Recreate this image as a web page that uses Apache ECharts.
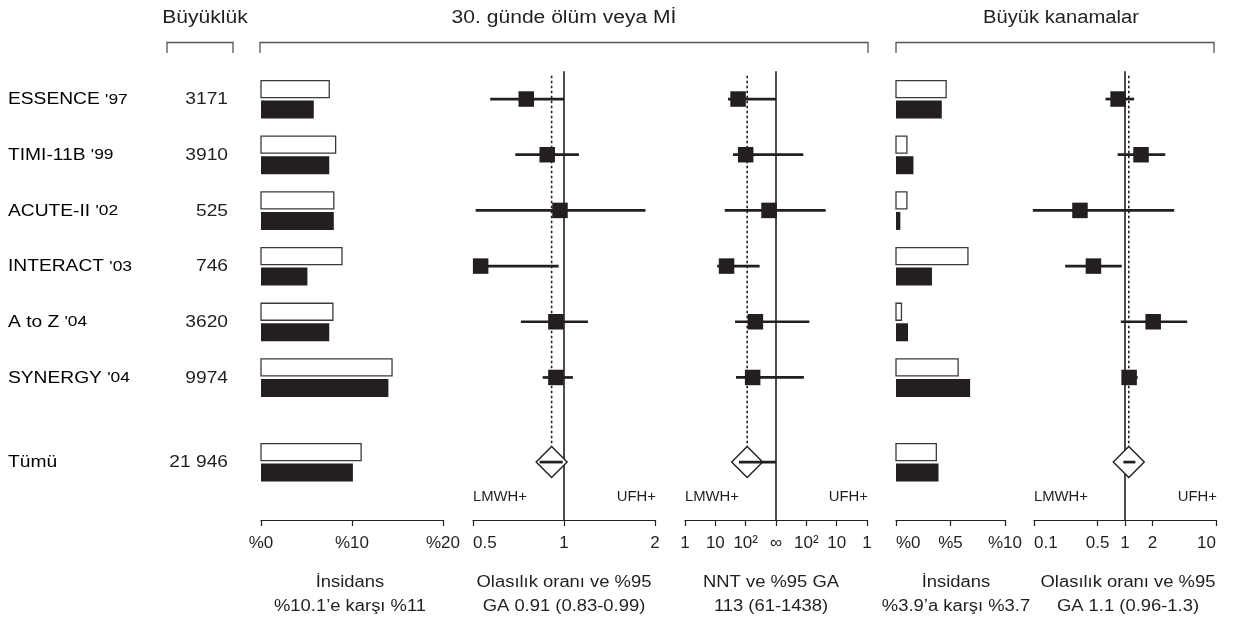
<!DOCTYPE html>
<html>
<head>
<meta charset="utf-8">
<script src="https://cdn.jsdelivr.net/npm/echarts@6/dist/echarts.min.js"></script>
<style>
html, body { margin: 0; padding: 0; background: #fff; }
#main { width: 1233px; height: 625px; }
</style>
</head>
<body>
<div id="main"></div>
<script>
// çalışmalar
var studies = ['ESSENCE', 'TIMI-11B', 'ACUTE-II', 'INTERACT', 'A to Z', 'SYNERGY', 'Tümü'];
var years = ["'97", "'99", "'02", "'03", "'04", "'04", ''];
var sizes = ['3171', '3910', '525', '746', '3620', '9974', '21 946'];
var rowPos = [0, 1, 2, 3, 4, 5, 6.52];

// 30. günde ölüm veya MI insidansı (%) - beyaz: UFH, siyah: LMWH
var miUfh = [7.5, 8.2, 8.0, 8.9, 7.9, 14.4, 11.0];
var miLmwh = [5.8, 7.5, 8.0, 5.1, 7.5, 14.0, 10.1];
// olasılık oranı ve %95 GA
var miOr = [0.75, 0.88, 0.97, 0.53, 0.94, 0.94, 0.91];
var miLo = [0.57, 0.69, 0.51, 0.50, 0.72, 0.85, 0.83];
var miHi = [1.00, 1.12, 1.86, 0.96, 1.20, 1.07, 0.99];
var miOrTicks = [0.5, 1, 2];
// NNT ölçeği (-3..3: LMWH+ 1,10,10²,∞,10²,10,1 UFH+)
var nntPt = [-1.25, -1.0, -0.23, -1.63, -0.68, -0.77, -0.95];
var nntLo = [-1.58, -1.42, -1.69, -1.94, -1.35, -1.32, -1.22];
var nntHi = [0, 0.90, 1.64, -0.54, 1.10, 0.92, 0];
var nntTicks = ['1', '10', '10²', '∞', '10²', '10', '1'];

// büyük kanamalar insidansı (%)
var blUfh = [4.6, 1.0, 1.0, 6.6, 0.5, 5.7, 3.7];
var blLmwh = [4.2, 1.6, 0.4, 3.3, 1.1, 6.8, 3.9];
var blOr = [0.84, 1.50, 0.32, 0.45, 2.04, 1.11, 1.1];
var blLo = [0.61, 0.83, 0.097, 0.22, 0.90, 0.95, 0.96];
var blHi = [1.26, 2.77, 3.47, 0.92, 4.82, 1.38, 1.3];
var blOrTicks = [0.1, 0.5, 1, 2, 10];

var headers = ['Büyüklük', '30. günde ölüm veya Mİ', 'Büyük kanamalar'];
var captions = [
    ['İnsidans', '%10.1’e karşı %11'],
    ['Olasılık oranı ve %95', 'GA 0.91 (0.83-0.99)'],
    ['NNT ve %95 GA', '113 (61-1438)'],
    ['İnsidans', '%3.9’a karşı %3.7'],
    ['Olasılık oranı ve %95', 'GA 1.1 (0.96-1.3)']
];

var INK = '#231f20';
var FONT = '"Liberation Sans", Arial, Helvetica, sans-serif';
var chart = echarts.init(document.getElementById('main'));

var panels = [
    { left: 261, width: 182, cx: 350 },
    { left: 473, width: 182, cx: 564 },
    { left: 685, width: 182, cx: 771 },
    { left: 896, width: 109, cx: 956 },
    { left: 1034, width: 182, cx: 1128 }
];
var TOP = 71.2, BOTTOM_Y = 520;

function axisLabel(extra) {
    var o = { color: INK, fontSize: 17, fontFamily: FONT, margin: 15 };
    for (var k in extra) o[k] = extra[k];
    return o;
}
function xAxisFn(i, extra) {
    var o = {
        gridIndex: i,
        position: 'bottom',
        axisLine: { show: true, onZero: false, lineStyle: { color: INK, width: 1.2 } },
        axisTick: { show: true, inside: false, length: 6, lineStyle: { color: INK, width: 1.2 } },
        splitLine: { show: false }
    };
    for (var k in extra) o[k] = extra[k];
    return o;
}

// beyaz/siyah çubuklar
function barSeries(idx, white, black) {
    return {
        type: 'custom', xAxisIndex: idx, yAxisIndex: idx, silent: true, z: 3,
        encode: { x: [0, 1], y: 2 },
        data: rowPos.map(function (y, i) { return [white[i], black[i], y]; }),
        renderItem: function (params, api) {
            var y = api.value(2);
            var c0 = api.coord([0, y]);
            var w = api.coord([api.value(0), y]);
            var b = api.coord([api.value(1), y]);
            return {
                type: 'group', children: [
                    { type: 'rect', shape: { x: c0[0], y: c0[1] - 18.5, width: w[0] - c0[0], height: 17 },
                      style: { fill: '#fff', stroke: '#3a3a3a', lineWidth: 1.3 } },
                    { type: 'rect', shape: { x: c0[0], y: c0[1] + 1.5, width: b[0] - c0[0], height: 18 },
                      style: { fill: INK } }
                ]
            };
        }
    };
}

// kare + GA çizgisi, son satır elmas
function forestSeries(idx, est, lo, hi) {
    var last = rowPos.length - 1;
    return {
        type: 'custom', xAxisIndex: idx, yAxisIndex: idx, silent: true, z: 4,
        encode: { x: [0, 1, 2], y: 3 },
        data: rowPos.map(function (y, i) { return [est[i], lo[i], hi[i], y, i === last ? 1 : 0]; }),
        renderItem: function (params, api) {
            var y = api.value(3);
            var c = api.coord([api.value(0), y]);
            var a = api.coord([api.value(1), y]);
            var b = api.coord([api.value(2), y]);
            var line = { type: 'line', shape: { x1: a[0], y1: c[1], x2: b[0], y2: c[1] },
                         style: { stroke: INK, lineWidth: 2.7 } };
            if (api.value(4)) {
                var h = 15.5;
                return { type: 'group', children: [
                    { type: 'polygon', shape: { points: [[c[0], c[1] - h], [c[0] + h, c[1]], [c[0], c[1] + h], [c[0] - h, c[1]]] },
                      style: { fill: '#fff', stroke: INK, lineWidth: 1.4 } },
                    line
                ] };
            }
            var s = 15.5;
            return { type: 'group', children: [
                line,
                { type: 'rect', shape: { x: c[0] - s / 2, y: c[1] - s / 2, width: s, height: s }, style: { fill: INK } }
            ] };
        }
    };
}

function refLine(idx, x, y0, y1, dashed) {
    return {
        type: 'line', xAxisIndex: idx, yAxisIndex: idx, silent: true, z: 2,
        symbol: 'none', data: [[x, y0], [x, y1]],
        lineStyle: { color: INK, width: dashed ? 1.6 : 1.6, type: dashed ? [2.5, 2.5] : 'solid' }
    };
}

var diamondTop = rowPos[rowPos.length - 1] - 0.28;

var option = {
    animation: false,
    backgroundColor: '#fff',
    grid: panels.map(function (p) {
        return { left: p.left, width: p.width, top: TOP, height: BOTTOM_Y - TOP, outerBoundsMode: 'none' };
    }),
    yAxis: panels.map(function (p, i) {
        return { gridIndex: i, type: 'value', min: -0.5, max: 7.56, inverse: true, show: false };
    }),
    xAxis: [
        xAxisFn(0, { type: 'value', min: 0, max: 20, interval: 10,
            axisLabel: axisLabel({ formatter: '%{value}' }) }),
        xAxisFn(1, { type: 'log', logBase: 2, min: 0.5, max: 2,
            axisTick: { show: true, length: 6, customValues: miOrTicks, lineStyle: { color: INK, width: 1.2 } },
            axisLabel: axisLabel({ customValues: miOrTicks, alignMinLabel: 'left', formatter: function (v) { return String(v); } }) }),
        xAxisFn(2, { type: 'value', min: -3, max: 3, interval: 1,
            axisLabel: axisLabel({ formatter: function (v) { return nntTicks[Math.round(v) + 3]; } }) }),
        xAxisFn(3, { type: 'value', min: 0, max: 10, interval: 5,
            axisLabel: axisLabel({ formatter: '%{value}', alignMinLabel: 'left' }) }),
        xAxisFn(4, { type: 'log', logBase: 10, min: 0.1, max: 10,
            axisTick: { show: true, length: 6, customValues: blOrTicks, lineStyle: { color: INK, width: 1.2 } },
            axisLabel: axisLabel({ customValues: blOrTicks, alignMinLabel: 'left', alignMaxLabel: 'right',
                formatter: function (v) { return String(v); } }) })
    ],
    series: [
        barSeries(0, miUfh, miLmwh),
        refLine(1, 1, -0.5, 7.56, false),
        refLine(1, miOr[miOr.length - 1], -0.42, diamondTop, true),
        forestSeries(1, miOr, miLo, miHi),
        refLine(2, 0, -0.5, 7.56, false),
        refLine(2, nntPt[nntPt.length - 1], -0.42, diamondTop, true),
        forestSeries(2, nntPt, nntLo, nntHi),
        barSeries(3, blUfh, blLmwh),
        refLine(4, 1, -0.5, 7.56, false),
        refLine(4, blOr[blOr.length - 1], -0.42, diamondTop, true),
        forestSeries(4, blOr, blLo, blHi)
    ]
};
chart.setOption(option);

// metinler ve başlık parantezleri
var graphics = [];
function txt(x, y, text, size, align, sx) {
    return { type: 'text', x: x, y: y, scaleX: sx || 1, silent: true,
        style: { text: text, fill: INK, font: size + 'px ' + FONT, align: align, verticalAlign: 'middle' } };
}
rowPos.forEach(function (r, i) {
    var y = chart.convertToPixel({ yAxisIndex: 0 }, r) + 1;
    graphics.push({ type: 'text', x: 8, y: y, scaleX: 1.2, silent: true,
        style: { text: '{a|' + studies[i] + '}' + (years[i] ? '{a| }{b|' + years[i] + '}' : ''),
            align: 'left', verticalAlign: 'middle',
            rich: {
                a: { fontSize: 16, fontFamily: FONT, color: INK, lineHeight: 18, verticalAlign: 'middle' },
                b: { fontSize: 14.5, fontFamily: FONT, color: INK, lineHeight: 18, verticalAlign: 'middle', padding: [0, 0, 1, 0] }
            } } });
    graphics.push(txt(228, y, sizes[i], 16, 'right', 1.2));
});
graphics.push(txt(205, 18, headers[0], 18, 'center', 1.17));
graphics.push(txt(564, 18, headers[1], 18, 'center', 1.17));
graphics.push(txt(1061, 18, headers[2], 18, 'center', 1.12));

var brackets = [[167, 233], [260, 868], [896, 1214]];
brackets.forEach(function (b) {
    graphics.push({ type: 'polyline', silent: true,
        shape: { points: [[b[0], 53], [b[0], 42.5], [b[1], 42.5], [b[1], 53]] },
        style: { stroke: '#555', lineWidth: 1.3, fill: null } });
});

[1, 2, 4].forEach(function (i) {
    var p = panels[i];
    graphics.push(txt(p.left, 497, 'LMWH+', 14, 'left', 1.06));
    graphics.push(txt(p.left + p.width + 1, 497, 'UFH+', 14, 'right', 1.06));
});
captions.forEach(function (c, i) {
    graphics.push(txt(panels[i].cx, 583, c[0], 16, 'center', 1.15));
    graphics.push(txt(panels[i].cx, 607, c[1], 16, 'center', 1.15));
});
chart.setOption({ graphic: graphics });
</script>
</body>
</html>
